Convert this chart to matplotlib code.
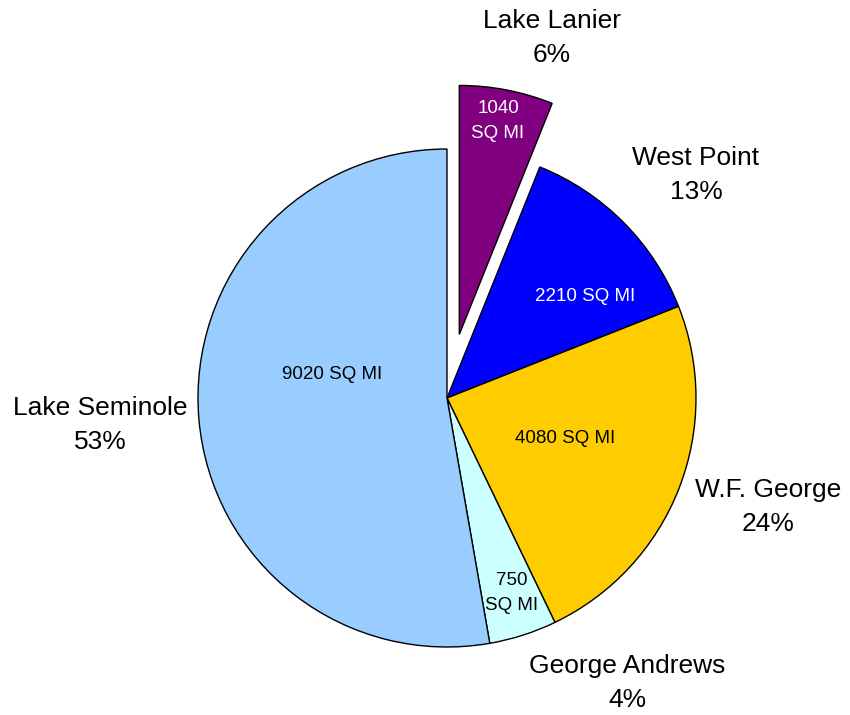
import matplotlib.pyplot as plt

plt.rcParams['font.family'] = ['Liberation Sans', 'DejaVu Sans']

# data
lakes = ['Lake Lanier', 'West Point', 'W.F. George', 'George Andrews', 'Lake Seminole']
area_sq_mi = [1040, 2210, 4080, 750, 9020]
percents = ['6%', '13%', '24%', '4%', '53%']
inner_labels = ['1040\nSQ MI', '2210 SQ MI', '4080 SQ MI', '750\nSQ MI', '9020 SQ MI']

# styles / layout
colors = ['#800080', '#0000FF', '#FFCC00', '#CCFFFF', '#99CCFF']
inner_colors = ['white', 'white', 'black', 'black', 'black']
explode = [0.26, 0, 0, 0, 0]
outer_pos = [(0.42, 1.446), (1.0, 0.896), (1.289, -0.438), (0.723, -1.145), (-1.394, -0.108)]
inner_pos = [(0.205, 1.112), (0.554, 0.406), (0.474, -0.161), (0.261, -0.783), (-0.462, 0.096)]

fig = plt.figure(figsize=(8.5, 7.15), dpi=100)
ax = fig.add_axes([0, 0, 1, 1])

ax.pie(area_sq_mi, colors=colors, explode=explode, startangle=90, counterclock=False,
       wedgeprops={'edgecolor': 'black', 'linewidth': 1.0})

for (x, y), name, pct in zip(outer_pos, lakes, percents):
    ax.text(x, y, name + '\n' + pct, ha='center', va='center', fontsize=19,
            linespacing=1.55, color='black')

for (x, y), txt, c in zip(inner_pos, inner_labels, inner_colors):
    ax.text(x, y, txt, ha='center', va='center', fontsize=13.5, color=c, linespacing=1.6)

# pixel mapping: centre at (447, 398), radius 249 px
r_px = 249
ax.set_xlim(-447 / r_px, (850 - 447) / r_px)
ax.set_ylim(-(715 - 398) / r_px, 398 / r_px)
ax.set_aspect('auto')
ax.axis('off')

fig.savefig('out.png', dpi=100, facecolor='white')
